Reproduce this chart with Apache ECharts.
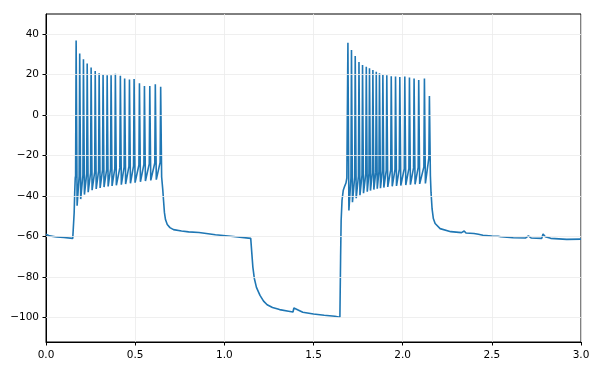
<!DOCTYPE html>
<html>
<head>
<meta charset="utf-8">
<script src="https://cdn.jsdelivr.net/npm/echarts@6/dist/echarts.min.js"></script>
<style>html,body{margin:0;padding:0;background:#fff}#c{width:600px;height:375px}</style>
</head>
<body>
<div id="c"></div>
<script>
// ---- data (time in s, potential in mV) ----
const xTicks = [0, 0.5, 1.0, 1.5, 2.0, 2.5, 3.0];
const yTicks = [-100, -80, -60, -40, -20, 0, 20, 40];

const restStart = [[0, -58.8], [0.02, -59.6], [0.06, -60.1], [0.10, -60.4], [0.15, -60.8], [0.156, -60.8],
  [0.158, -48], [0.161, -38], [0.164, -31]];

const train1Times = [0.169, 0.189, 0.210, 0.231, 0.253, 0.276, 0.298, 0.320, 0.343, 0.365,
  0.389, 0.417, 0.441, 0.468, 0.494, 0.524, 0.552, 0.582, 0.613, 0.643];
const train1Peaks = [36.9, 30.5, 27.6, 25.6, 23.6, 21.8, 20.7, 20.0, 19.7, 19.7,
  20.5, 19.5, 18.2, 17.6, 17.9, 15.8, 14.4, 14.4, 15.3, 14.1];
const train1Thresh = [-30, -30, -29.5, -29, -28.5, -28, -27.5, -27, -26.8, -26.5,
  -26.2, -26, -25.6, -25.3, -25, -24.6, -24.3, -24, -23.6, -23.3];
const train1Troughs = [-44.7, -41.4, -39.2, -38.0, -37.0, -36.4, -35.9, -35.5, -35.2, -34.9,
  -34.6, -34.3, -34.0, -33.6, -33.3, -32.9, -32.5, -32.2, -31.8, -30.5];

const recovery1 = [[0.652, -30], [0.655, -37], [0.659, -42], [0.664, -48], [0.670, -51.5], [0.68, -54],
  [0.695, -55.5], [0.715, -56.5], [0.76, -57.2], [0.80, -57.6], [0.858, -57.9], [0.862, -57.2],
  [0.868, -58], [0.95, -59], [1.05, -59.9], [1.148, -60.8]];

const hyperpol = [[1.151, -61], [1.154, -68], [1.160, -75], [1.168, -80.5], [1.18, -85], [1.20, -89],
  [1.22, -91.8], [1.24, -93.6], [1.27, -95], [1.31, -96], [1.36, -96.8], [1.385, -97.2],
  [1.39, -95.2], [1.40, -96], [1.44, -97.3], [1.50, -98.2], [1.56, -98.8], [1.62, -99.3], [1.648, -99.8]];

const rebound = [[1.650, -99.8], [1.652, -70], [1.655, -52], [1.660, -42], [1.667, -37],
  [1.675, -35], [1.682, -33.5], [1.687, -31]];

const train2Times = [1.693, 1.713, 1.734, 1.755, 1.775, 1.796, 1.814, 1.833, 1.852, 1.870,
  1.889, 1.911, 1.936, 1.960, 1.984, 2.012, 2.038, 2.064, 2.090, 2.122, 2.150];
const train2Peaks = [35.8, 32.2, 29.2, 26.3, 24.8, 24.0, 23.2, 22.3, 21.5, 20.7,
  19.9, 19.7, 19.2, 19.1, 18.9, 19.1, 18.6, 18.1, 17.4, 18.1, 9.5];
const train2Thresh = [-31, -31, -30.5, -30, -29.5, -29, -28.7, -28.4, -28.1, -27.8,
  -27.5, -27.2, -27, -26.8, -26.6, -26.4, -26.2, -26, -25.8, -25.5, -21];
const train2Troughs = [-47, -43, -41, -39.5, -38.5, -37.8, -37.2, -36.7, -36.3, -36,
  -35.7, -35.4, -35.1, -34.9, -34.7, -34.5, -34.3, -34.1, -33.9, -33.7, -30];

const recovery2 = [[2.159, -38], [2.165, -46.3], [2.172, -51], [2.182, -53.5], [2.21, -56],
  [2.27, -57.5], [2.33, -58], [2.345, -57.2], [2.355, -58.2], [2.40, -58.4], [2.41, -57.5],
  [2.425, -58.8], [2.45, -59.3], [2.50, -59.7], [2.535, -59.8], [2.54, -59.2], [2.55, -60],
  [2.62, -60.5], [2.69, -60.6], [2.705, -59.6], [2.72, -60.6], [2.78, -60.8], [2.787, -58.6],
  [2.80, -60], [2.83, -60.8], [2.92, -61.3], [3.0, -61.2]];

// ---- assemble trace ----
function spikes(times, peaks, thresh, troughs) {
  const out = [];
  for (let i = 0; i < times.length; i++) {
    out.push([times[i] - 0.003, thresh[i]]);
    out.push([times[i], peaks[i]]);
    out.push([times[i] + 0.0055, troughs[i]]);
  }
  return out;
}
const trace = [].concat(
  restStart,
  spikes(train1Times, train1Peaks, train1Thresh, train1Troughs),
  recovery1, hyperpol, rebound,
  spikes(train2Times, train2Peaks, train2Thresh, train2Troughs),
  recovery2
);

const minus = s => String(s).replace('-', '\u2212');
const FONT = 'DejaVu Sans';

const chart = echarts.init(document.getElementById('c'), null, {renderer: 'canvas'});
chart.setOption({
  animation: false,
  backgroundColor: '#fff',
  grid: {left: 46, right: 19, top: 14, bottom: 33, show: true, borderColor: '#000', borderWidth: 1, backgroundColor: 'transparent'},
  xAxis: {
    type: 'value', min: 0, max: 3, interval: 0.5,
    axisLine: {show: true, onZero: false, lineStyle: {color: '#000', width: 1}},
    axisTick: {show: true, inside: false, length: 3.5, lineStyle: {color: '#000'}},
    axisLabel: {color: '#000', fontFamily: FONT, fontSize: 10.5, margin: 8, formatter: v => v.toFixed(1)},
    splitLine: {show: true, lineStyle: {color: '#ebebeb', width: 0.8}}
  },
  yAxis: {
    type: 'value', min: -112, max: 50,
    axisLine: {show: true, onZero: false, lineStyle: {color: '#000', width: 1}},
    axisTick: {show: true, inside: false, length: 3.5, lineStyle: {color: '#000'}, customValues: yTicks},
    axisLabel: {color: '#000', fontFamily: FONT, fontSize: 10.5, margin: 7, customValues: yTicks, formatter: v => minus(v)},
    splitLine: {show: false}
  },
  series: [
    {
      type: 'line', data: [], z: 1, silent: true,
      markLine: {
        silent: true, symbol: ['none', 'none'], animation: false,
        label: {show: false},
        lineStyle: {color: '#ebebeb', width: 0.8, type: 'solid'},
        data: yTicks.map(v => ({yAxis: v}))
      }
    },
    {
      type: 'line', data: trace, z: 2, showSymbol: false, symbol: 'none', clip: true,
      lineStyle: {color: '#1f77b4', width: 1.6},
      emphasis: {disabled: true}
    }
  ]
});
</script>
</body>
</html>
